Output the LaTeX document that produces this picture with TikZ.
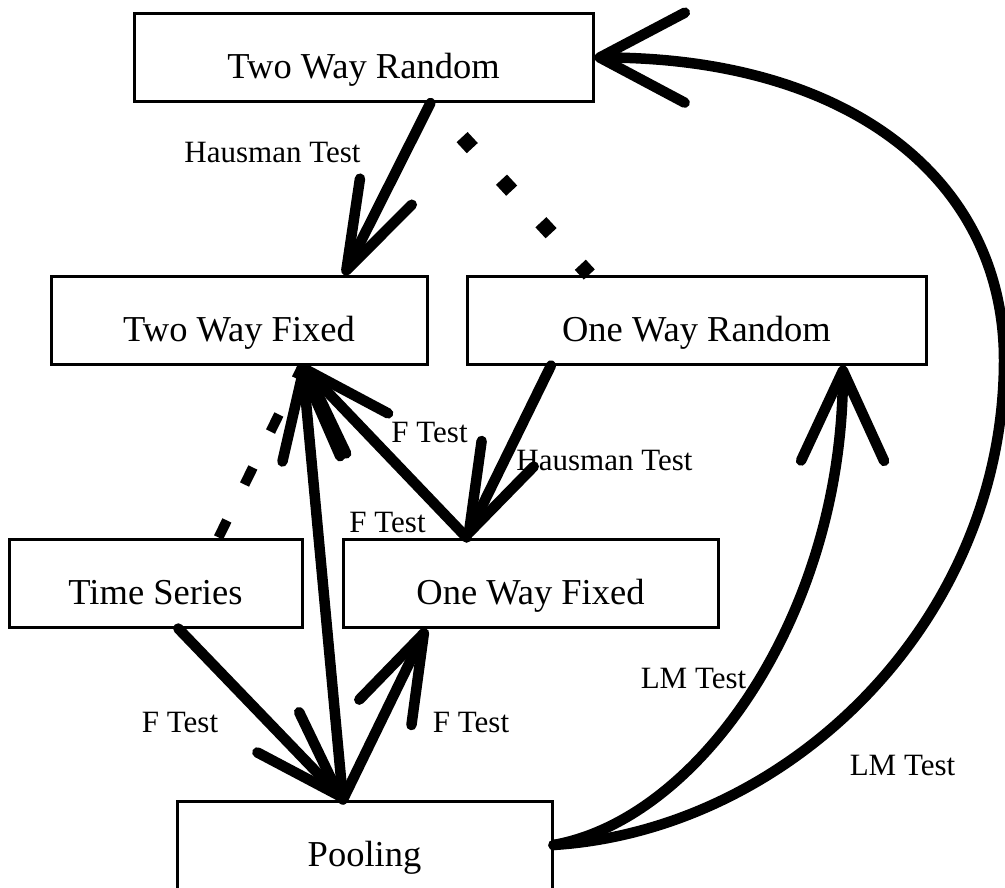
\documentclass[tikz,border=0pt]{standalone}
\usepackage{fontspec}
\setmainfont{Liberation Serif}
\usetikzlibrary{arrows.meta,calc}
\begin{document}
\begin{tikzpicture}[x=1pt,y=-1pt,
  box/.style={draw,line width=3pt,minimum width=#1,minimum height=88pt,inner sep=0pt,
    text height=42pt,text depth=0pt,font=\fontsize{36.5}{40}\selectfont},
  lbl/.style={anchor=base,inner sep=0pt,font=\fontsize{31}{34}\selectfont},
  conn/.style={line width=10.5pt,line cap=round,line join=round},
  barbtip/.style={-{Straight Barb[length=88pt,width=58pt,round]}},
  dotline/.style={line width=15pt,line cap=butt,dash pattern=on 15pt off 43pt,dash phase=15pt,shorten <=3.5pt},
  dashline/.style={line width=10pt,line cap=butt,dash pattern=on 19pt off 40pt}
]
\useasboundingbox (0,0) rectangle (1005,888);

\node[box=459pt] (twr) at (363.5,57.5) {Two Way Random};
\node[box=376pt] (twf) at (239,320.5) {Two Way Fixed};
\node[box=459pt] (owr) at (696.5,320) {One Way Random};
\node[box=293pt] (ts) at (155.5,583) {Time Series};
\node[box=375pt] (owf) at (530.5,583) {One Way Fixed};
\node[box=375pt] (pool) at (364.5,845) {Pooling};

\coordinate (twrB) at ($(twr.south west)!0.645!(twr.south east)$);
\coordinate (twfT) at ($(twf.north west)!0.777!(twf.north east)$);
\coordinate (owrT) at ($(owr.north west)!0.268!(owr.north east)$);
\coordinate (twfB) at ($(twf.south west)!0.668!(twf.south east)$);
\coordinate (tsT) at ($(ts.north west)!0.713!(ts.north east)$);
\coordinate (tsB) at ($(ts.south west)!0.577!(ts.south east)$);
\coordinate (owfT) at ($(owf.north west)!0.331!(owf.north east)$);
\coordinate (owfB) at ($(owf.south west)!0.224!(owf.south east)$);
\coordinate (poolT) at ($(pool.north west)!0.443!(pool.north east)$);
\coordinate (owrB1) at ($(owr.south west)!0.185!(owr.south east)$);
\coordinate (owrB2) at ($(owr.south west)!0.817!(owr.south east)$);
\coordinate (rt) at (1004,360);

\draw[conn,barbtip] (twrB) -- (twfT);
\draw[dotline] (twrB) -- (owrT);
\draw[dashline] (tsT) -- (twfB);
\draw[conn,barbtip] (poolT) -- (twfB);
\draw[conn,barbtip] (owfT) -- (twfB);
\draw[conn,barbtip] (owrB1) -- (owfT);
\draw[conn,barbtip] (tsB) -- (poolT);
\draw[conn,barbtip] (poolT) -- (owfB);
\draw[conn,-{Straight Barb[length=90pt,width=83pt,round]}] (pool.east) .. controls (700,819) and (842,614) .. (owrB2);
\draw[conn,-{Straight Barb[length=85pt,width=90pt,round]}] (pool.east) .. controls (790,830) and (1004,620) .. (rt) .. controls (1004,180) and (850,58) .. (twr.east);

\node[lbl] (l1) at (272.5,163) {Hausman Test};
\node[lbl] (l2) at (429.5,442) {F Test};
\node[lbl] (l3) at (604.5,470) {Hausman Test};
\node[lbl] (l4) at (387.5,532) {F Test};
\node[lbl] (l5) at (180,732) {F Test};
\node[lbl] (l6) at (471,732) {F Test};
\node[lbl] (l7) at (693.5,688) {LM Test};
\node[lbl] (l8) at (902.5,775) {LM Test};
\end{tikzpicture}
\end{document}
